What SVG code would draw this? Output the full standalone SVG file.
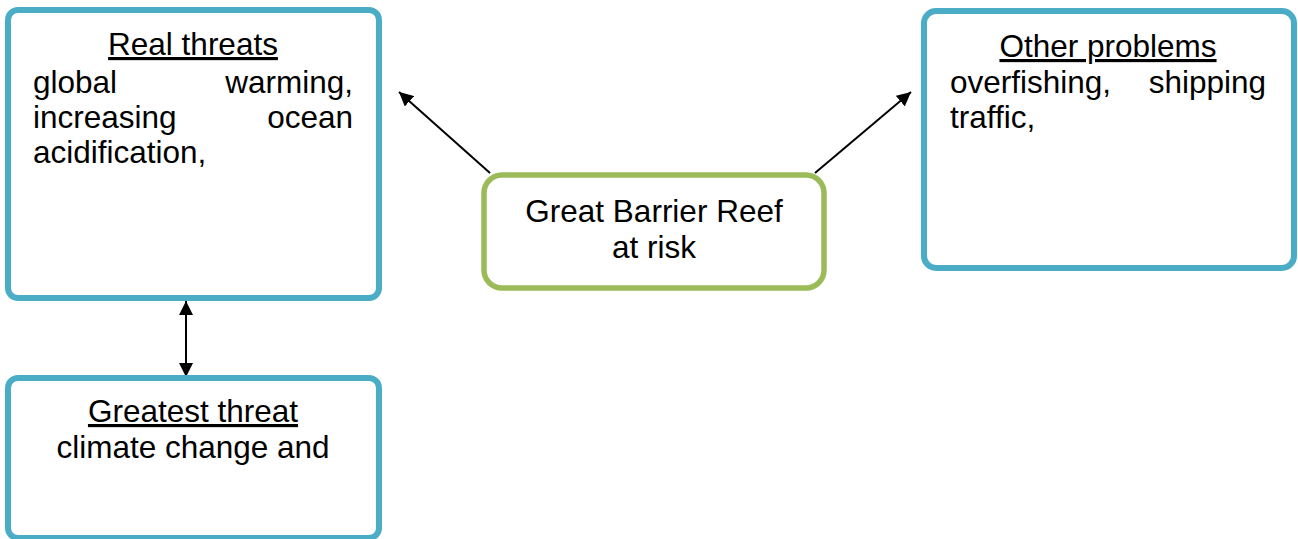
<svg xmlns="http://www.w3.org/2000/svg" width="1298" height="539" viewBox="0 0 1298 539">
  <style>
    .box-blue { fill: #ffffff; stroke: #4BACC6; stroke-width: 6; }
    .box-green { fill: #ffffff; stroke: #9BBB59; stroke-width: 5.5; }
    .txt { font-family: "Liberation Sans", Arial, sans-serif; font-size: 31.5px; fill: #000000; }
    .title { text-anchor: middle; text-decoration: underline; }
    .mid { text-anchor: middle; }
    .end { text-anchor: end; }
    .conn { stroke: #000000; stroke-width: 2; fill: none; }
  </style>
  <defs>
    <marker id="arrow" viewBox="0 0 10 10" refX="10" refY="5" markerWidth="7" markerHeight="7" orient="auto-start-reverse" markerUnits="strokeWidth">
      <path d="M0,0 L10,5 L0,10 z" fill="#000000"/>
    </marker>
  </defs>

  <rect width="1298" height="539" fill="#ffffff"/>

  <!-- connectors -->
  <g id="connectors">
    <line class="conn" x1="490" y1="173" x2="399" y2="92" marker-end="url(#arrow)"/>
    <line class="conn" x1="815" y1="173" x2="911" y2="92" marker-end="url(#arrow)"/>
    <line class="conn" x1="186" y1="301" x2="186" y2="377" marker-start="url(#arrow)" marker-end="url(#arrow)"/>
  </g>

  <!-- Real threats -->
  <g id="real-threats">
    <rect class="box-blue" x="8" y="10" width="371" height="288" rx="10"/>
    <text class="txt title" x="193" y="55">Real threats</text>
    <text class="txt" x="33" y="93">global</text>
    <text class="txt end" x="353" y="93">warming,</text>
    <text class="txt" x="33" y="128">increasing</text>
    <text class="txt end" x="353" y="128">ocean</text>
    <text class="txt" x="33" y="163">acidification,</text>
  </g>

  <!-- Central topic -->
  <g id="reef">
    <rect class="box-green" x="484" y="175" width="340" height="113" rx="18"/>
    <text class="txt mid" x="654" y="222">Great Barrier Reef</text>
    <text class="txt mid" x="654" y="258">at risk</text>
  </g>

  <!-- Other problems -->
  <g id="other-problems">
    <rect class="box-blue" x="924" y="11" width="370" height="257" rx="12"/>
    <text class="txt title" x="1108" y="57">Other problems</text>
    <text class="txt" x="950" y="93">overfishing,</text>
    <text class="txt end" x="1266" y="93">shipping</text>
    <text class="txt" x="950" y="128">traffic,</text>
  </g>

  <!-- Greatest threat -->
  <g id="greatest-threat">
    <rect class="box-blue" x="8" y="378" width="371" height="160" rx="10"/>
    <text class="txt title" x="193" y="422">Greatest threat</text>
    <text class="txt mid" x="193" y="458">climate change and</text>
  </g>
</svg>
